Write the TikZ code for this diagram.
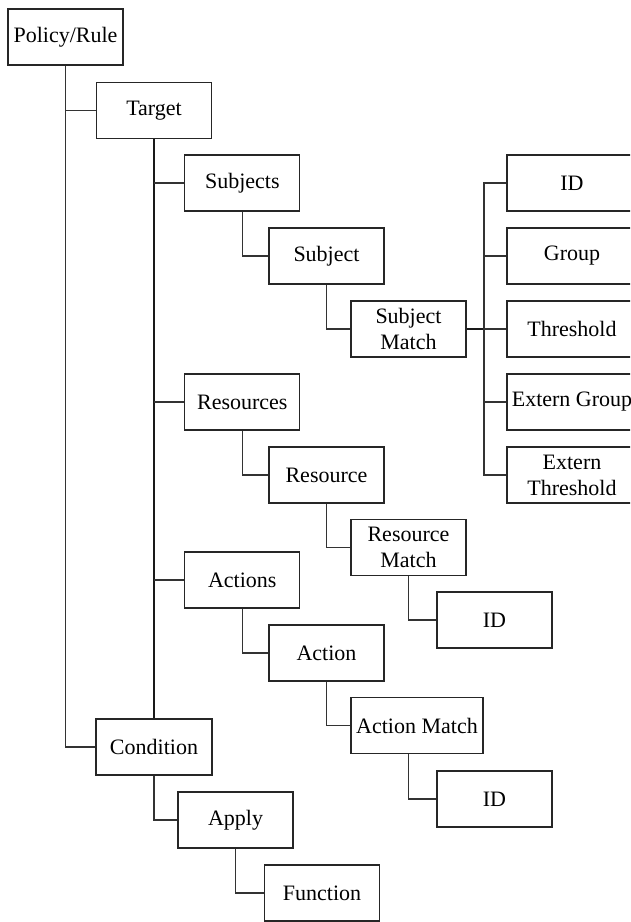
\documentclass[tikz,border=0pt]{standalone}
\usepackage{fontspec}
\setmainfont{Liberation Serif}
\begin{document}
\begin{tikzpicture}[x=1pt,y=-1pt,
  box/.style={draw=black!85, line width=1.1pt, minimum width=115pt, minimum height=56pt,
    inner sep=1pt, align=center, font=\fontsize{22}{26}\selectfont},
  widebox/.style={box, minimum width=130pt},
  link/.style={draw=black!80, line width=1.1pt},
  bus/.style={draw=black!90, line width=1.8pt}]
\useasboundingbox (0,0) rectangle (630,922);
\clip (0,0) rectangle (630,922);

% hierarchy boxes
\node[box] (policy) at (65.5,37) {Policy/Rule};
\node[box] (target) at (154,110.5) {Target};
\node[box] (subjects) at (242.3,183) {Subjects};
\node[box] (subject) at (326.5,256) {Subject};
\node[box] (subjmatch) at (408.5,329) {Subject\\Match};
\node[widebox] (sid) at (572,183) {ID};
\node[widebox] (sgroup) at (572,256) {Group};
\node[widebox] (sthresh) at (572,329) {Threshold};
\node[widebox] (sextgroup) at (572,402) {Extern Group};
\node[widebox] (sextthresh) at (572,475) {Extern\\Threshold};
\node[box] (resources) at (242.3,402) {Resources};
\node[box] (resource) at (326.5,475) {Resource};
\node[box] (resmatch) at (408.5,547.5) {Resource\\Match};
\node[box] (rid) at (494.5,620) {ID};
\node[box] (actions) at (242.3,580) {Actions};
\node[box] (action) at (326.5,653) {Action};
\node[box, minimum width=132pt] (actmatch) at (417,725.5) {Action Match};
\node[box] (aid) at (494.5,799) {ID};
\node[box, minimum width=116pt] (condition) at (154,747) {Condition};
\node[box] (apply) at (235.5,820) {Apply};
\node[box] (function) at (322,893) {Function};

% connectors
\draw[link] (policy.south) |- (target.west);
\draw[link] (policy.south) |- (condition.west);
\draw[bus] (target.south) -- (condition.north);
\draw[link] (target.south |- subjects.west) -- (subjects.west);
\draw[link] (target.south |- resources.west) -- (resources.west);
\draw[link] (target.south |- actions.west) -- (actions.west);

\draw[link] (subjects.south) |- (subject.west);
\draw[link] (subject.south) |- (subjmatch.west);
\coordinate (sbus) at (484,329);
\draw[bus, line width=1.4pt] (subjmatch.east) -- (sbus);
\draw[link] (sid.west) -| (sbus) |- (sextthresh.west);
\draw[link] (sbus |- sgroup.west) -- (sgroup.west);
\draw[link] (sbus) -- (sthresh.west);
\draw[link] (sbus |- sextgroup.west) -- (sextgroup.west);

\draw[link] (resources.south) |- (resource.west);
\draw[link] (resource.south) |- (resmatch.west);
\draw[link] (resmatch.south) |- (rid.west);

\draw[link] (actions.south) |- (action.west);
\draw[link] (action.south) |- (actmatch.west);
\draw[link] ([xshift=-8.5pt]actmatch.south) |- (aid.west);

\draw[link] (condition.south) |- (apply.west);
\draw[link] (apply.south) |- (function.west);
\end{tikzpicture}
\end{document}
